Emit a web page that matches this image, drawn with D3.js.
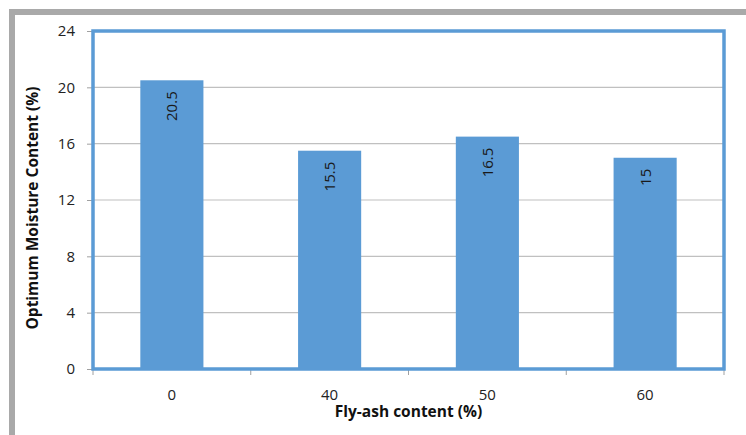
<!DOCTYPE html>
<html>
<head>
<meta charset="utf-8">
<script src="https://cdn.jsdelivr.net/npm/d3@7"></script>
<style>
  html, body { margin: 0; padding: 0; background: #fff; }
  svg { display: block; }
</style>
</head>
<body>
<svg id="chart" width="746" height="435"></svg>
<script>
// Fly-ash content categories and optimum moisture content values
const categories = ["0", "40", "50", "60"];
const moisture = [20.5, 15.5, 16.5, 15];
const yTicks = [0, 4, 8, 12, 16, 20, 24];

const W = 746, H = 435;
const plot = { left: 93, right: 724, top: 31, bottom: 369 };
const blue = "#5B9BD5";
const font = "'Open Sans', 'Liberation Sans', sans-serif";

const svg = d3.select("#chart");

// Outer panel frame (top and left edges)
svg.append("rect").attr("x", 9).attr("y", 9).attr("width", W - 9).attr("height", 6).attr("fill", "#a9a9a9");
svg.append("rect").attr("x", 9).attr("y", 9).attr("width", 6).attr("height", H - 9).attr("fill", "#a9a9a9");

const x = d3.scaleBand().domain(categories).range([plot.left, plot.right]).paddingInner(0.6).paddingOuter(0.3);
const xBound = d3.scaleBand().domain(categories).range([plot.left, plot.right]);
const y = d3.scaleLinear().domain([0, 24]).range([plot.bottom, plot.top]);

// Gridlines
svg.append("g").selectAll("line").data(yTicks.filter(t => t > 0 && t < 24)).join("line")
  .attr("x1", plot.left).attr("x2", plot.right)
  .attr("y1", d => y(d)).attr("y2", d => y(d))
  .attr("stroke", "#c0c0c0").attr("stroke-width", 1.2);

// Y axis
const yAxis = svg.append("g").attr("transform", `translate(${plot.left},0)`)
  .call(d3.axisLeft(y).tickValues(yTicks).tickSize(6).tickPadding(12));
yAxis.select(".domain").remove();
yAxis.selectAll(".tick line").attr("stroke", "#a0a0a0");
yAxis.selectAll("text").attr("font-family", font).attr("font-size", 15).attr("fill", "#222");

// X axis (ticks at category boundaries)
const bounds = categories.map(c => xBound(c)).concat([plot.right]);
svg.append("g").selectAll("line").data(bounds).join("line")
  .attr("x1", d => d).attr("x2", d => d)
  .attr("y1", plot.bottom).attr("y2", plot.bottom + 6)
  .attr("stroke", "#a0a0a0");
svg.append("g").selectAll("text").data(categories).join("text")
  .attr("x", d => xBound(d) + xBound.bandwidth() / 2)
  .attr("y", 400)
  .attr("text-anchor", "middle")
  .attr("font-family", font).attr("font-size", 15).attr("fill", "#222")
  .text(d => d);

// Bars
svg.append("g").selectAll("rect").data(moisture).join("rect")
  .attr("x", (d, i) => x(categories[i]))
  .attr("width", x.bandwidth())
  .attr("y", d => y(d))
  .attr("height", d => y(0) - y(d))
  .attr("fill", blue);

// Value labels, rotated inside the top of each bar
svg.append("g").selectAll("text").data(moisture).join("text")
  .attr("transform", (d, i) => `translate(${x(categories[i]) + x.bandwidth() / 2 + 5.5},${y(d) + 11}) rotate(-90)`)
  .attr("text-anchor", "end")
  .attr("font-family", font).attr("font-size", 15).attr("fill", "#1a1a1a")
  .text(d => d);

// Plot area frame
svg.append("rect")
  .attr("x", plot.left).attr("y", plot.top)
  .attr("width", plot.right - plot.left).attr("height", plot.bottom - plot.top)
  .attr("fill", "none").attr("stroke", blue).attr("stroke-width", 3.5);

// Axis titles
svg.append("text")
  .attr("x", (plot.left + plot.right) / 2).attr("y", 417)
  .attr("text-anchor", "middle")
  .attr("font-family", font).attr("font-size", 15.5).attr("font-weight", "bold").attr("fill", "#111")
  .text("Fly-ash content (%)");
svg.append("text")
  .attr("transform", `translate(38,${(plot.top + plot.bottom) / 2 + 8}) rotate(-90)`)
  .attr("text-anchor", "middle")
  .attr("font-family", font).attr("font-size", 15.5).attr("font-weight", "bold").attr("fill", "#111")
  .text("Optimum Moisture Content (%)");
</script>
</body>
</html>
